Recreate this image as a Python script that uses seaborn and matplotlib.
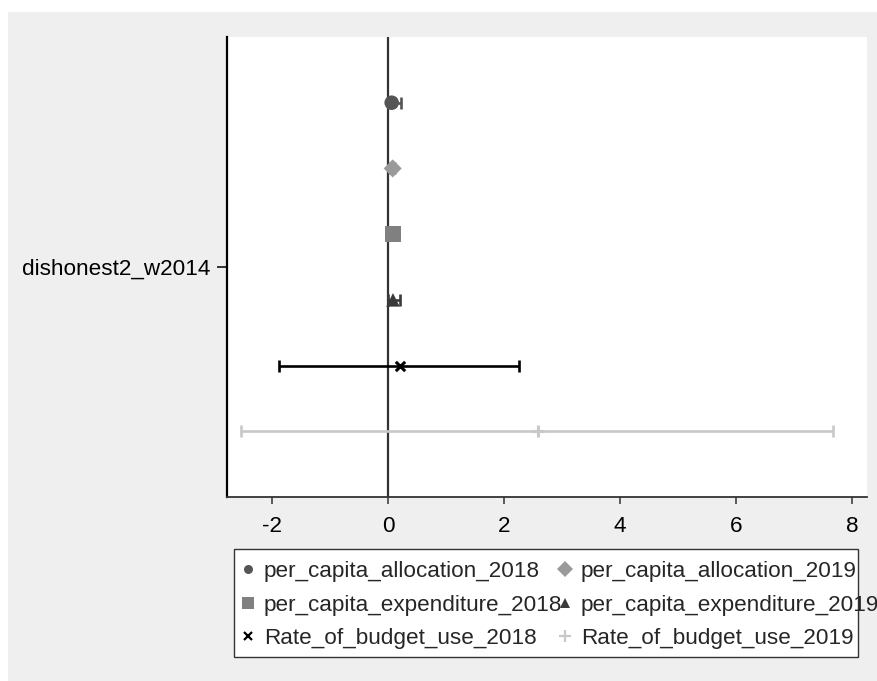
import numpy as np
import pandas as pd
import matplotlib
matplotlib.use("Agg")
import matplotlib.pyplot as plt
from matplotlib.patches import Rectangle
from matplotlib.lines import Line2D
import seaborn as sns

# Coefficient estimates and 95% confidence bounds for dishonest2_w2014
series = [
    "per_capita_allocation_2018",
    "per_capita_allocation_2019",
    "per_capita_expenditure_2018",
    "per_capita_expenditure_2019",
    "Rate_of_budget_use_2018",
    "Rate_of_budget_use_2019",
]
coef = [0.064, 0.081, 0.091, 0.086, 0.207, 2.586]
ci_low = [-0.005, 0.035, 0.035, 0.000, -1.874, -2.534]
ci_high = [0.219, 0.127, 0.147, 0.207, 2.259, 7.670]
term_label = "dishonest2_w2014"
x_ticks = [-2, 0, 2, 4, 6, 8]

colors = ["#555555", "#9a9a9a", "#808080", "#3a3a3a", "#000000", "#c8c8c8"]
markers = ["o", "D", "s", "^", "x", "+"]
msizes = [110, 85, 130, 95, 45, 80]
legend_ms = [6.5, 8.5, 8, 7, 6, 8]

df = pd.DataFrame({"series": series, "coef": coef, "lo": ci_low, "hi": ci_high})
# stacked offsets of the six estimates around the single term row
df["pos"] = np.arange(len(series)) - (len(series) - 1) / 2

sns.set_theme(style="white")
plt.rcParams["font.family"] = ["Liberation Sans", "DejaVu Sans"]

W, H = 878, 681
fig = plt.figure(figsize=(W / 100, H / 100), dpi=100, facecolor="white")
# grey graph region inside a thin white margin
fig.add_artist(Rectangle((8 / W, 0), 1 - 8 / W, 1 - 12 / H, transform=fig.transFigure,
                         facecolor="#efefef", edgecolor="none", zorder=-10))

ax = fig.add_axes([227 / W, (H - 497) / H, 640 / W, 460 / H])
ax.set_facecolor("white")

ax.axvline(0, color="#333333", lw=1.6, zorder=1)

for i, row in df.iterrows():
    ax.errorbar(row["coef"], row["pos"],
                xerr=[[row["coef"] - row["lo"]], [row["hi"] - row["coef"]]],
                fmt="none", ecolor=colors[i], elinewidth=1.9, capsize=4.3,
                capthick=1.9, zorder=2)
    sub = df.iloc[[i]]
    if markers[i] in ("x", "+"):
        sns.scatterplot(data=sub, x="coef", y="pos", marker=markers[i], color=colors[i],
                        s=msizes[i], linewidth=2.2, ax=ax, legend=False, zorder=3)
    else:
        sns.scatterplot(data=sub, x="coef", y="pos", marker=markers[i], color=colors[i],
                        s=msizes[i], edgecolor="none", ax=ax, legend=False, zorder=3)

ax.set_xlim(-2.776, 8.26)
ax.set_ylim(3.5, -3.5)
ax.set_xticks(x_ticks)
ax.set_xticklabels([str(t) for t in x_ticks])
ax.set_yticks([0])
ax.set_yticklabels([term_label])
ax.set_xlabel("")
ax.set_ylabel("")

for s in ["top", "right"]:
    ax.spines[s].set_visible(False)
ax.spines["left"].set_color("#000000")
ax.spines["left"].set_linewidth(1.6)
ax.spines["bottom"].set_color("#333333")
ax.spines["bottom"].set_linewidth(1.3)

ax.tick_params(axis="x", direction="out", length=5, width=1.1, color="#333333",
               pad=9, labelsize=16.2, labelcolor="#000000", bottom=True)
ax.tick_params(axis="y", direction="out", length=7, width=1.1, color="#000000",
               pad=5, labelsize=16.2, labelcolor="#000000", left=True)

# legend: two columns inside a framed box
handles = [Line2D([], [], linestyle="none", marker=m, color=c, markersize=ms,
                  markeredgewidth=(1.6 if m in ("x", "+") else 0))
           for m, c, ms in zip(markers, colors, legend_ms)]
order = [0, 2, 4, 1, 3, 5]
leg = fig.legend([handles[k] for k in order], [series[k] for k in order],
                 ncol=2, loc="upper left",
                 bbox_to_anchor=(241 / W, (H - 561) / H),
                 frameon=False, fontsize=16.2, handlelength=0.6,
                 handletextpad=0.41, columnspacing=-0.17, labelspacing=0.56,
                 borderpad=0, borderaxespad=0)
fig.add_artist(Rectangle((234 / W, (H - 657) / H), 624 / W, 108 / H,
                         transform=fig.transFigure, facecolor="white",
                         edgecolor="#333333", lw=1.0, zorder=-5))

fig.savefig("out.png", dpi=100, facecolor=fig.get_facecolor())
